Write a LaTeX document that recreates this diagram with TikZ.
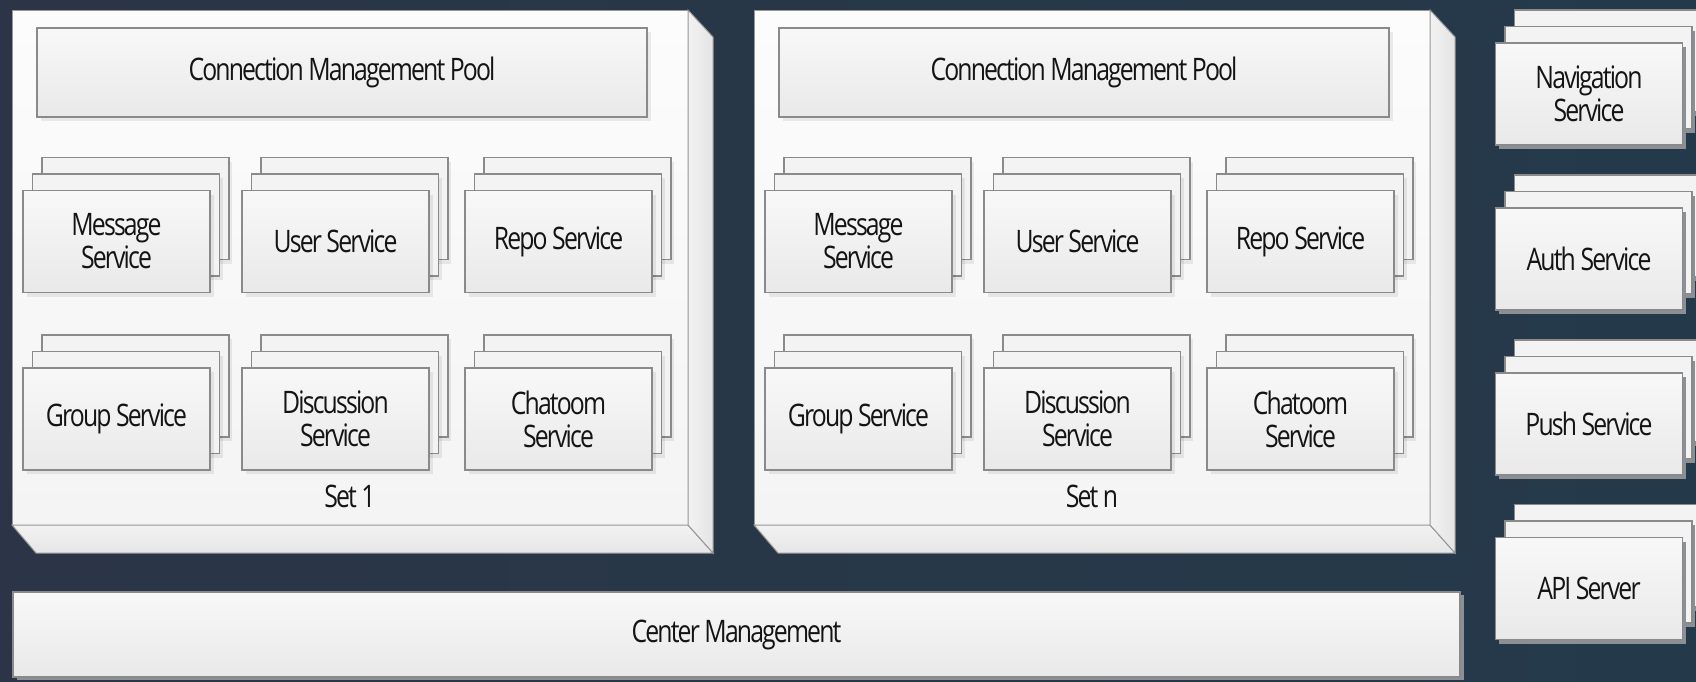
\documentclass[tikz,border=0pt]{standalone}
\usepackage{fontspec}
\setmainfont{Open Sans}[FakeStretch=0.8, LetterSpace=-6]
\usetikzlibrary{shadows,calc}

\definecolor{bgA}{HTML}{2B3547}
\definecolor{bgB}{HTML}{243A4A}
\definecolor{edge}{HTML}{8A8A8A}
\definecolor{faceTop}{HTML}{F8F8F8}
\definecolor{faceBot}{HTML}{E9E9E9}
\definecolor{layer}{HTML}{F3F3F3}
\definecolor{setTop}{HTML}{FCFCFC}
\definecolor{setBot}{HTML}{F4F4F4}
\definecolor{sideA}{HTML}{F2F2F2}
\definecolor{sideB}{HTML}{E4E4E4}
\definecolor{bottomface}{HTML}{E6E6E6}
\definecolor{ink}{HTML}{141414}
\definecolor{darkshade}{HTML}{8C9094}

\tikzset{
  txt/.style={text=ink, font=\fontsize{31}{33}\selectfont, align=center},
  panel/.style={txt, draw=edge, line width=1.2pt, top color=faceTop,
    bottom color=faceBot, inner sep=0pt, outer sep=0pt},
  svc/.style={panel, minimum width=187pt, minimum height=102pt},
  % two copies stacked behind a service box, each with a drop shadow
  stack/.style 2 args={
    general shadow={fill=#1, fill opacity=#2, shadow xshift=22pt, shadow yshift=29pt},
    general shadow={fill=layer, draw=edge, line width=1.2pt, shadow xshift=19pt, shadow yshift=33pt},
    general shadow={fill=#1, fill opacity=#2, shadow xshift=12.5pt, shadow yshift=12.5pt},
    general shadow={fill=layer, draw=edge, line width=1.2pt, shadow xshift=9.5pt, shadow yshift=16.5pt},
    general shadow={fill=#1, fill opacity=#2, shadow xshift=3.5pt, shadow yshift=-4pt}},
  inner stack/.style={svc, stack={black}{0.07}},
  outer stack/.style={svc, stack={darkshade}{1}},
  setface/.style={draw=edge!90, line width=1pt, top color=setTop, bottom color=setBot,
    inner sep=0pt, outer sep=0pt, minimum width=676pt, minimum height=515pt},
  sidefill/.style={draw=edge!90, line width=1pt, left color=sideA, right color=sideB},
  bottomfill/.style={draw=edge!90, line width=1pt, top color=sideA, bottom color=bottomface},
  setlabel/.style={txt},
}

\begin{document}
\begin{tikzpicture}[x=1pt, y=-1pt]
  \useasboundingbox (0,0) rectangle (1696,681);
  % backdrop
  \path[left color=bgA, right color=bgB] (0,0) rectangle (1696,681);

  % ---- service sets (front face, extruded side and bottom) ----
  \foreach \sx/\lab/\nm in {0/Set 1/a, 742/Set n/b} {
    \begin{scope}[shift={(\sx,0)}]
      \node[setface, anchor=north west] (set\nm) at (12,10) {};
      \path[bottomfill] (set\nm.south west) -- (set\nm.south east) -- ++(25,28)
        -- ($(set\nm.south west)+(24,28)$) -- cycle;
      \path[sidefill] (set\nm.north east) -- ++(25,27)
        -- ($(set\nm.south east)+(25,28)$) -- (set\nm.south east) -- cycle;
      \node[setlabel] (lab\nm) at (350,496) {\lab};

      \node[panel, general shadow={fill=black, fill opacity=0.07, shadow xshift=3.5pt, shadow yshift=-4pt},
        minimum width=610pt, minimum height=89pt] (pool\nm) at (342,72.5)
        {Connection Management Pool};

      \node[inner stack] (msg\nm)   at (116.5,241.5) {Message\\Service};
      \node[inner stack] (user\nm)  at (335.5,241.5) {User Service};
      \node[inner stack] (repo\nm)  at (558.5,241.5) {Repo Service};
      \node[inner stack] (group\nm) at (116.5,419)   {Group Service};
      \node[inner stack] (disc\nm)  at (335.5,419)   {Discussion\\Service};
      \node[inner stack] (chat\nm)  at (558.5,419)   {Chatoom\\Service};
    \end{scope}
  }

  % ---- center management bar ----
  \node[panel, general shadow={fill=darkshade, shadow xshift=4pt, shadow yshift=-3pt},
    minimum width=1447pt, minimum height=85pt] (center) at (736.5,634.5) {Center Management};

  % ---- standalone services on the right ----
  \node[outer stack] (nav)  at (1589,94)    {Navigation\\Service};
  \node[outer stack] (auth) at (1589,259)   {Auth Service};
  \node[outer stack] (push) at (1589,424)   {Push Service};
  \node[outer stack] (api)  at (1589,588.5) {API Server};
\end{tikzpicture}
\end{document}
